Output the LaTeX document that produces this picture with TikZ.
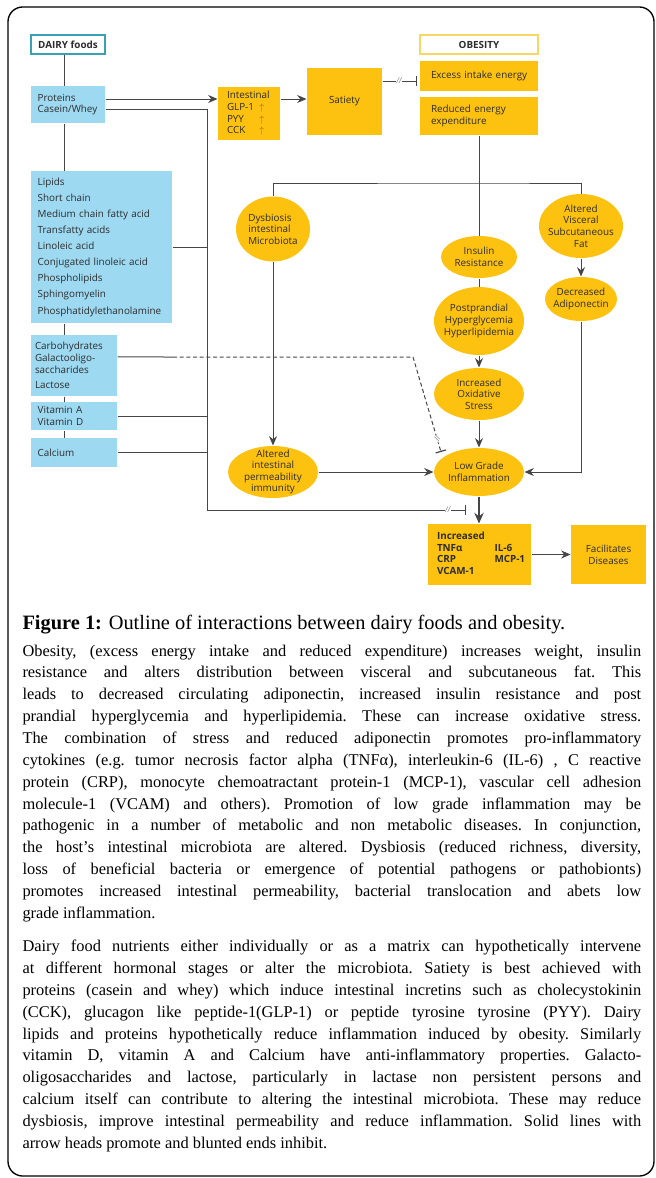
\documentclass[tikz,border=0pt]{standalone}
\usepackage{fontspec}
\setmainfont{Liberation Serif}
\newfontfamily\chartfont{Open Sans}
\usetikzlibrary{arrows.meta,shapes.geometric}

\definecolor{milkblue}{RGB}{158,217,242}
\definecolor{fatgold}{RGB}{253,193,16}
\definecolor{milkteal}{RGB}{58,160,180}
\definecolor{paleyellow}{RGB}{247,214,100}
\definecolor{inkgray}{RGB}{45,45,45}
\definecolor{wiregray}{RGB}{70,70,70}
\definecolor{uptan}{RGB}{160,115,25}

\newcommand{\hormup}{\textcolor{uptan}{$\uparrow$}}

\tikzset{every picture/.style={line width=0.75pt}}
\tikzset{
  chart/.style={font=\chartfont\fontsize{7.4}{8.7}\selectfont, text=inkgray},
  milkbox/.style={chart, fill=milkblue, inner xsep=5pt, inner ysep=0pt, align=left},
  goldbox/.style={chart, fill=fatgold, inner xsep=6pt, inner ysep=0pt},
  goldoval/.style={chart, ellipse, fill=fatgold, inner sep=-4pt, align=center},
  headbox/.style={chart, font=\chartfont\bfseries\fontsize{7.4}{8.7}\selectfont, fill=white, line width=0.9pt, minimum height=14.25pt, inner sep=0pt},
  wire/.style={draw=wiregray, line width=0.75pt},
  promote/.style={wire, -{Stealth[length=7pt,width=6pt]}},
  inhibit/.style={wire, -{Bar[width=8pt,line width=0.9pt]}},
  cutmark/.style={sloped, fill=white, inner sep=0.5pt, font=\fontsize{6.5}{6.5}\selectfont\itshape, text=wiregray}
}

\begin{document}
\begin{tikzpicture}[x=0.75pt,y=0.75pt,yscale=-1,xscale=1]
\useasboundingbox (0,0) rectangle (656,1178);
\draw [line width=1pt, rounded corners=11pt] (8,7) rectangle (654,1176);

% dairy column
\draw (68,44.5) node [headbox, draw=milkteal, minimum width=55.5pt] (dairy) {DAIRY foods};
\draw (68,104.5) node [milkbox, text width=45.5pt, minimum height=27.75pt] (prot) {Proteins\\Casein/Whey};
\draw (101.5,247) node [milkbox, text width=95.75pt, minimum height=114pt, font=\chartfont\fontsize{7.4}{12.1}\selectfont] (lip) {Lipids\\Short chain\\Medium chain fatty acid\\Transfatty acids\\Linoleic acid\\Conjugated linoleic acid\\Phospholipids\\Sphingomyelin\\Phosphatidylethanolamine};
\draw (74,365.5) node [milkbox, inner xsep=3pt, text width=58.5pt, minimum height=45.75pt] (carb) {Carbohydrates\\Galactooligo-\\saccharides\\[3pt]Lactose};
\draw (74,416) node [milkbox, text width=54.5pt, minimum height=21pt] (vit) {Vitamin A\\Vitamin D};
\draw (74,452.5) node [milkbox, text width=54.5pt, minimum height=21.75pt] (cal) {Calcium};

% hormones and obesity
\draw (249,113.5) node [goldbox, inner xsep=6.75pt, text width=33pt, minimum height=39.75pt, align=left] (intest) {Intestinal\\\makebox[24pt][l]{GLP-1}\hormup\\\makebox[24pt][l]{PYY}\hormup\\\makebox[24pt][l]{CCK}\hormup};
\draw (344.5,101.5) node [goldbox, minimum width=56.25pt, minimum height=50.25pt] (sat) {Satiety};
\draw (479,44.5) node [headbox, draw=paleyellow, minimum width=88.5pt] (obes) {OBESITY};
\draw (479,76) node [goldbox, inner xsep=8.25pt, text width=72pt, minimum height=22.5pt, align=left] (exc) {\mbox{Excess intake energy}};
\draw (479,116) node [goldbox, inner xsep=8.25pt, text width=72pt, minimum height=28.5pt, align=left] (red) {Reduced energy\\expenditure};

\draw (273,229) node [goldoval, minimum width=55.5pt, minimum height=48.75pt, align=left] (dys) {Dysbiosis\\intestinal\\Microbiota};
\draw (479,257) node [goldoval, minimum width=57pt, minimum height=31.5pt] (ins) {Insulin\\Resistance};
\draw (479,321) node [goldoval, minimum width=67.5pt, minimum height=51pt] (post) {Postprandial\\Hyperglycemia\\Hyperlipidemia};
\draw (479,394) node [goldoval, minimum width=67.5pt, minimum height=39pt] (oxi) {Increased\\Oxidative\\Stress};
\draw (479,472) node [goldoval, minimum width=67.5pt, minimum height=36pt] (low) {Low Grade\\Inflammation};
\draw (581,226) node [goldoval, minimum width=63pt, minimum height=48pt] (vis) {Altered\\Visceral\\Subcutaneous\\Fat};
\draw (581,299) node [goldoval, minimum width=54pt, minimum height=33pt] (adi) {Decreased\\Adiponectin};
\draw (273,472) node [goldoval, minimum width=67.5pt, minimum height=39pt] (perm) {Altered\\intestinal\\permeability\\immunity};

\draw (479.5,554.5) node [goldbox, inner xsep=6.75pt, text width=63.75pt, minimum height=45.75pt, align=left, font=\chartfont\bfseries\fontsize{7.4}{8.7}\selectfont] (incr) {\begin{tabular}{@{}l@{\hspace{15pt}}l@{}}
\multicolumn{2}{@{}l@{}}{Increased}\\
TNFα & IL-6\\
CRP & MCP-1\\
VCAM-1 &
\end{tabular}};
\draw (608.5,554.5) node [goldbox, minimum width=56.25pt, minimum height=44.25pt, align=center] (fac) {Facilitates\\Diseases};

\coordinate (spine) at (64,0);
\coordinate (bus) at (207,510);
\coordinate (busend) at (466,510);
\coordinate (fork) at (479,183);
\coordinate (carbcut) at (173,357);
\coordinate (carbturn) at (413,357);
\coordinate (carbend) at (441,452);
\coordinate (hormy) at (0,99);
\coordinate (saty) at (0,81);

\foreach \a/\b in {dairy/prot,prot/lip,lip/carb,carb/vit,vit/cal}
  \draw [wire] (\a.south -| spine) -- (\b.north -| spine);
\draw [promote] (prot.east |- hormy) -- (intest.west |- hormy);
\draw [promote] (intest.east |- hormy) -- (sat.west |- hormy);
\draw [inhibit, shorten >=2pt] (sat.east |- saty) -- node [cutmark, pos=0.45] {//} (exc.west |- saty);
\draw [inhibit] ([yshift=3.4pt]prot.east) -| (bus) -- node [cutmark, pos=0.93] {//} (busend);
\foreach \n in {lip,vit,cal}
  \draw [wire] (\n.east) -- (\n.east -| bus);
\draw [wire] ([yshift=-6.4pt]carb.east) -- (carbcut);
\draw [inhibit, dash pattern=on 3pt off 2pt] (carbcut) -- (carbturn) -- node [cutmark, pos=0.86] {//} (carbend);

\draw [wire] (red.south) -- (ins.north);
\draw [wire] (dys.north) |- (fork) -| (vis.north);
\draw [wire] (ins.south) -- (post.north);
\draw [promote] (post) -- (oxi);
\draw [promote] (oxi) -- (low);
\draw [promote] (vis) -- (adi);
\draw [promote] (adi.south) |- (low.east);
\draw [promote] (dys) -- (perm);
\draw [promote] (perm) -- (low);
\draw [wire, line width=1.6pt, -{Stealth[length=8pt,width=7pt]}] (low.south) -- (low.south |- incr.north);
\draw [promote] (incr) -- (fac);

% caption and notes
\draw (22,629) node [anchor=base west, inner sep=0pt, font=\fontsize{15.3}{18}\selectfont] (caption) {\textbf{Figure 1:} Outline of interactions between dairy foods and obesity.};
\draw (22,656) node [anchor=base west, inner sep=0pt, font=\fontsize{12.3}{16.4}\selectfont] (notes) {\begin{minipage}[t]{464pt}
\setlength{\parskip}{8.5pt}\hyphenpenalty=10000 \tolerance=9999 \frenchspacing
Obesity, (excess energy intake and reduced expenditure) increases weight, insulin\linebreak
resistance and alters distribution between visceral and subcutaneous fat. This\linebreak
leads to decreased circulating adiponectin, increased insulin resistance and post\linebreak
prandial hyperglycemia and hyperlipidemia. These can increase oxidative stress.\linebreak
The combination of stress and reduced adiponectin promotes pro-inflammatory\linebreak
cytokines (e.g. tumor necrosis factor alpha (TNFα), interleukin-6 (IL-6) , C reactive\linebreak
protein (CRP), monocyte chemoatractant protein-1 (MCP-1), vascular cell adhesion\linebreak
molecule-1 (VCAM) and others). Promotion of low grade inflammation may be\linebreak
pathogenic in a number of metabolic and non metabolic diseases. In conjunction,\linebreak
the host’s intestinal microbiota are altered. Dysbiosis (reduced richness, diversity,\linebreak
loss of beneficial bacteria or emergence of potential pathogens or pathobionts)\linebreak
promotes increased intestinal permeability, bacterial translocation and abets low\linebreak
grade inflammation.

Dairy food nutrients either individually or as a matrix can hypothetically intervene\linebreak
at different hormonal stages or alter the microbiota. Satiety is best achieved with\linebreak
proteins (casein and whey) which induce intestinal incretins such as cholecystokinin\linebreak
(CCK), glucagon like peptide-1(GLP-1) or peptide tyrosine tyrosine (PYY). Dairy\linebreak
lipids and proteins hypothetically reduce inflammation induced by obesity. Similarly\linebreak
vitamin D, vitamin A and Calcium have anti-inflammatory properties. Galacto-\linebreak
oligosaccharides and lactose, particularly in lactase non persistent persons and\linebreak
calcium itself can contribute to altering the intestinal microbiota. These may reduce\linebreak
dysbiosis, improve intestinal permeability and reduce inflammation. Solid lines with\linebreak
arrow heads promote and blunted ends inhibit.
\end{minipage}};

\end{tikzpicture}
\end{document}
